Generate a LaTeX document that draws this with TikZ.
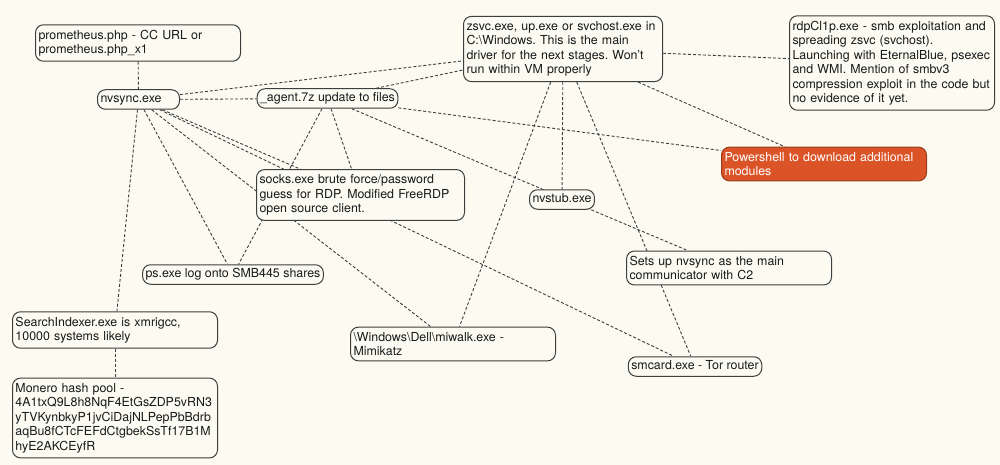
\documentclass[tikz,border=0pt]{standalone}
\usepackage{fontspec}
\setmainfont{TeX Gyre Heros}
\usetikzlibrary{positioning}

\definecolor{paper}{RGB}{252,251,241}
\definecolor{ink}{RGB}{62,62,62}
\definecolor{rust}{RGB}{219,84,40}

\pgfdeclarelayer{paperlayer}
\pgfdeclarelayer{linklayer}
\pgfsetlayers{paperlayer,linklayer,main}

\begin{document}
\begin{tikzpicture}[
  x=1pt, y=-1pt,
  font=\fontsize{12.4}{14.5}\selectfont\frenchspacing,
  box/.style={draw=ink, fill=paper, rounded corners=8pt, line width=1pt, align=left, inner xsep=3pt, inner ysep=5pt, text=black!90},
  note/.style={box, text width=199pt},
  tag/.style={box, text height=9.5pt, text depth=3pt, inner ysep=3.5pt},
  alert/.style={note, fill=rust, draw=rust!70!black, text=white},
  link/.style={draw=ink, line width=0.9pt, dash pattern=on 3pt off 2pt}
]
  \begin{pgfonlayer}{paperlayer}
    \fill[paper] (0,0) rectangle (1000,465);
  \end{pgfonlayer}

  \node[note] (prom) at (138,43) {prometheus.php - CC URL or\\prometheus.php\_x1};
  \node[tag, text width=76pt] (nvsync) at (138.5,99.5) {nvsync.exe};
  \node[tag] (agent) at (327.5,98.5) {\_agent.7z update to files};
  \node[note, text width=193pt] (zsvc) at (563,49) {zsvc.exe, up.exe or svchost.exe in\\C:\textbackslash Windows. This is the main\\driver for the next stages. Won't\\run within VM properly};
  \node[note] (rdp) at (892,63) {rdpCl1p.exe - smb exploitation and\\spreading zsvc (svchost).\\Launching with EternalBlue, psexec\\and WMI. Mention of smbv3\\compression exploit in the code but\\no evidence of it yet.};
  \node[alert] (power) at (824,164) {Powershell to download additional\\modules};
  \node[note, text width=202pt] (socks) at (360.5,195) {socks.exe brute force/password\\guess for RDP. Modified FreeRDP\\open source client.};
  \node[tag] (nvstub) at (562,199.5) {nvstub.exe};
  \node[note] (setsup) at (729,268) {Sets up nvsync as the main\\communicator with C2};
  \node[tag] (ps) at (233,274.5) {ps.exe log onto SMB445 shares};
  \node[note] (search) at (115,330) {SearchIndexer.exe is xmrigcc,\\10000 systems likely};
  \node[note] (monero) at (115,418) {Monero hash pool -\\4A1txQ9L8h8NqF4EtGsZDP5vRN3\\yTVKynbkyP1jvCiDajNLPepPbBdrb\\aqBu8fCTcFEFdCtgbekSsTf17B1M\\hyE2AKCEyfR};
  \node[note] (miwalk) at (453,344) {\textbackslash Windows\textbackslash Dell\textbackslash miwalk.exe -\\Mimikatz};
  \node[tag] (smcard) at (695,366.5) {smcard.exe - Tor router};

  \begin{pgfonlayer}{linklayer}
    \draw[link] (prom) -- (nvsync);
    \draw[link] (nvsync) -- (agent);
    \draw[link] (nvsync) -- (zsvc);
    \draw[link] (nvsync) -- (search);
    \draw[link] (nvsync) -- (ps);
    \draw[link] (nvsync) -- (miwalk);
    \draw[link] (nvsync) -- (socks);
    \draw[link] (nvsync) -- (smcard);
    \draw[link] (search) -- (monero);
    \draw[link] (agent) -- (zsvc);
    \draw[link] (agent) -- (power);
    \draw[link] (agent) -- (ps);
    \draw[link] (agent) -- (socks);
    \draw[link] (agent) -- (setsup);
    \draw[link] (zsvc) -- (rdp);
    \draw[link] (zsvc) -- (power);
    \draw[link] (zsvc) -- (miwalk);
    \draw[link] (zsvc) -- (nvstub);
    \draw[link] (zsvc) -- (smcard);
  \end{pgfonlayer}
\end{tikzpicture}
\end{document}
